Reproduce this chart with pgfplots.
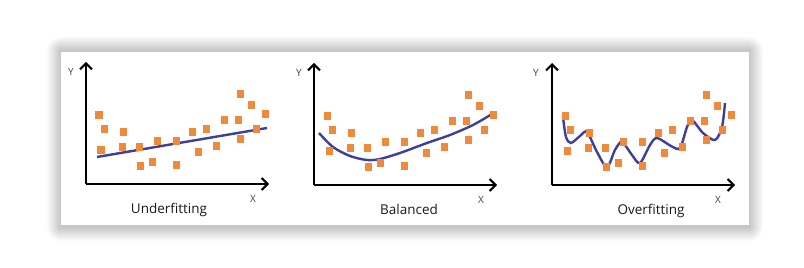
\documentclass[border=0pt]{standalone}
\usepackage{fontspec}
\setmainfont{Open Sans}
\usepackage{pgfplots}
\pgfplotsset{compat=1.18}
\usetikzlibrary{arrows.meta}

\definecolor{dotorange}{HTML}{EF8A3D}
\definecolor{fitblue}{HTML}{3D3F9E}
\definecolor{labelgrey}{HTML}{444444}

% the same noisy sample is shown in all three panels
\pgfplotstableread{
x   y
13  69
18  55
15  34
37  52
36  37
53  37
54  18
66  22
71  43
90  43
90  19
106 52
112 32
120 55
130 38
138 64
152 64
154 45
154 90
165 79
170 55
179 70
}\samples

\tikzset{
  axlab/.style={font=\fontsize{10}{10}\selectfont, text=labelgrey},
  ttl/.style={anchor=base, font=\fontsize{13.5}{14}\selectfont, text=black!90},
}

\pgfplotsset{
  panel/.style={
    scale only axis, width=183pt, height=122pt,
    xmin=0, xmax=183, ymin=0, ymax=122,
    axis lines=left,
    axis line style={line width=2pt, black},
    every outer x axis line/.append style={-{Straight Barb[length=6pt,width=12pt]}},
    every outer y axis line/.append style={-{Straight Barb[length=6pt,width=12pt]}},
    xtick=\empty, ytick=\empty,
    clip=false, anchor=south west,
  },
  pts/.style={only marks, mark=square*, mark size=3.3pt, color=dotorange,
    mark options={draw=none, fill=dotorange}},
  fit/.style={no marks, fitblue, line width=2.4pt},
}

\begin{document}
\begin{tikzpicture}[x=1pt, y=1pt]
  \fill[white] (0,0) rectangle (804,268);
  % soft shadow around the card
  \foreach \i in {1,...,14} {
    \fill[black, opacity=0.014, rounded corners=\i pt]
      ({61-\i},{41-\i}) rectangle ({749+\i},{217+\i});
  }
  \fill[white] (61,43) rectangle (749,216);

  % Underfitting
  \begin{axis}[panel, at={(86pt,84pt)}]
    \addplot[pts] table {\samples};
    \addplot[fit] coordinates {(11,27) (181,56)};
    \node[axlab] at (axis cs:-15,112) {Y};
    \node[axlab] at (axis cs:167,-15) {X};
    \node[ttl] at (axis cs:83,-30) {Underfitting};
  \end{axis}

  % Balanced
  \begin{axis}[panel, at={(314pt,83pt)}]
    \addplot[pts] table {\samples};
    \addplot[fit, smooth] coordinates {
      (5,52) (19,38) (36,29) (53,25) (66,26) (86,32) (113,42) (136,50) (159,60) (178,71)};
    \node[axlab] at (axis cs:-15,112) {Y};
    \node[axlab] at (axis cs:167,-15) {X};
    \node[ttl] at (axis cs:95,-30) {Balanced};
  \end{axis}

  % Overfitting
  \begin{axis}[panel, at={(552pt,83pt)}]
    \addplot[pts] table {\samples};
    \addplot[fit, smooth] coordinates {
      (11,68) (14,48) (19,42) (28,49) (35,53) (45,33) (55,18) (63,35) (70,43)
      (80,30) (88,22) (98,40) (105,47) (119,39) (128,37) (135,58) (140,65)
      (151,52) (163,45) (170,58) (173,82)};
    \node[axlab] at (axis cs:-16,112) {Y};
    \node[axlab] at (axis cs:166,-15) {X};
    \node[ttl] at (axis cs:99,-30) {Overfitting};
  \end{axis}
\end{tikzpicture}
\end{document}
